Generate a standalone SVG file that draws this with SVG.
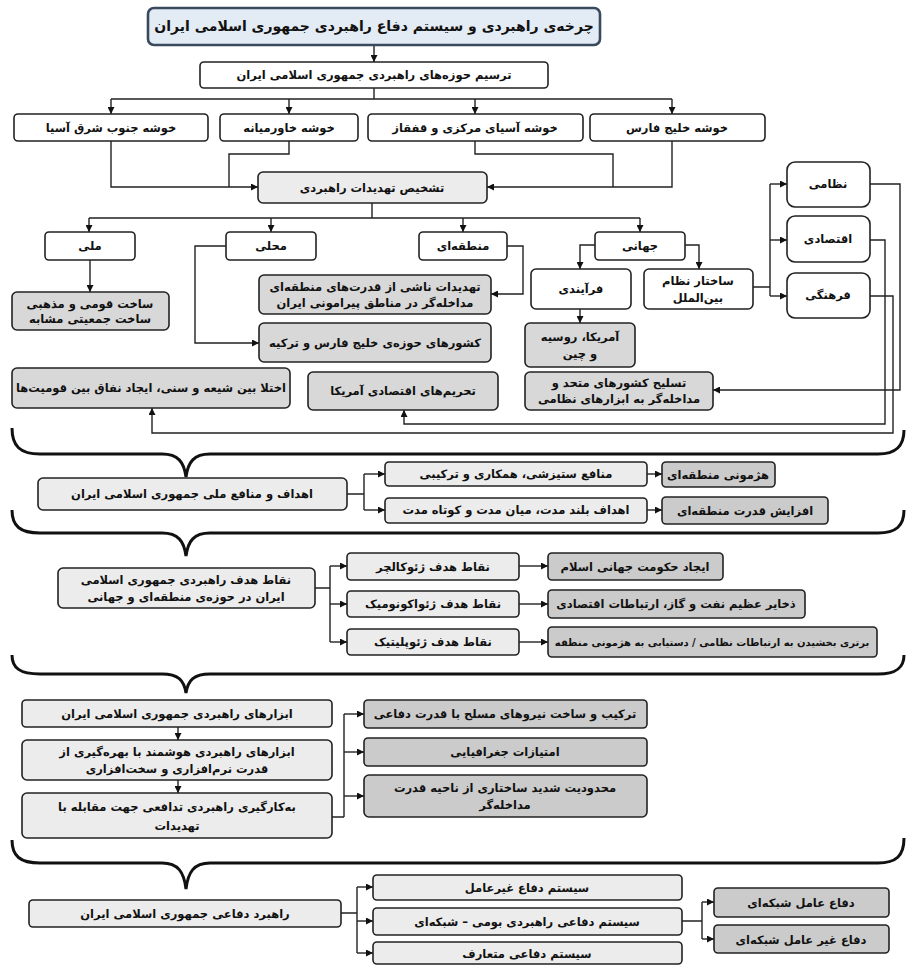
<svg xmlns="http://www.w3.org/2000/svg" width="909" height="966" viewBox="0 0 909 966">
<defs>
<marker id="ah" viewBox="0 0 8 8" refX="8" refY="4" markerWidth="7" markerHeight="7" markerUnits="userSpaceOnUse" orient="auto">
<path d="M0,0 L8,4 L0,8 z" fill="#111"/>
</marker>
<style>
.w{fill:#ffffff;stroke:#222;stroke-width:1.6}
.l{fill:#ececec;stroke:#222;stroke-width:1.6}
.g{fill:#d8d8d8;stroke:#222;stroke-width:1.6}
.d{fill:#cbcbcb;stroke:#222;stroke-width:1.6}
.tt{fill:#e3ebf4;stroke:#3a4a5e;stroke-width:2.6}
text{font-family:"DejaVu Sans",sans-serif;font-weight:bold;font-size:11.5px;fill:#111;text-anchor:middle;direction:rtl}
.big{font-size:14px}
.sm{font-size:10px}
.c{fill:none;stroke:#222;stroke-width:1.4}
.a{fill:none;stroke:#222;stroke-width:1.4;marker-end:url(#ah)}
.b{fill:none;stroke:#111;stroke-width:3}
</style>
</defs>
<rect width="909" height="966" fill="#fff"/>

<g id="connectors">
<path class="a" d="M374,45 V62"/>
<path class="c" d="M374,88 V99 M111,99 H672"/>
<path class="a" d="M111,99 V114"/>
<path class="a" d="M289,99 V114"/>
<path class="a" d="M475,99 V114"/>
<path class="a" d="M672,99 V114"/>
<path class="a" d="M111,141 V187 H258"/>
<path class="c" d="M289,141 V154 H229 V187"/>
<path class="c" d="M475,141 V154 H613 V187"/>
<path class="a" d="M672,141 V187 H487"/>
<path class="c" d="M372,203 V218 M89,218 H640"/>
<path class="a" d="M89,218 V232"/>
<path class="a" d="M271,218 V232"/>
<path class="a" d="M463,218 V232"/>
<path class="a" d="M640,218 V232"/>
<path class="a" d="M90,260 V292"/>
<path class="a" d="M226,246 H195 V343 H259"/>
<path class="a" d="M507,246 H523 V294 H491"/>
<path class="a" d="M595,245 H580 V269"/>
<path class="a" d="M685,245 H699 V269"/>
<path class="a" d="M580,309 V323"/>
<path class="c" d="M753,287 H770 M770,184 V296"/>
<path class="a" d="M770,184 H787"/>
<path class="a" d="M770,240 H787"/>
<path class="a" d="M770,296 H787"/>
<path class="a" d="M870,184 H900 V390 H713"/>
<path class="a" d="M870,240 H885 V424 H404 V410"/>
<path class="a" d="M870,296 H893 V433 H152 V408"/>

<path class="c" d="M347,494 H364 M364,474 V510"/>
<path class="a" d="M364,474 H385"/>
<path class="a" d="M364,510 H385"/>
<path class="a" d="M647,474 H662"/>
<path class="a" d="M647,510 H662"/>

<path class="c" d="M315,588 H330 M330,566 V642"/>
<path class="a" d="M330,566 H347"/>
<path class="a" d="M330,604 H347"/>
<path class="a" d="M330,642 H347"/>
<path class="a" d="M519,566 H548"/>
<path class="a" d="M519,604 H548"/>
<path class="a" d="M519,642 H548"/>

<path class="a" d="M178,727 V740"/>
<path class="a" d="M178,780 V793"/>
<path class="c" d="M332,817 H344 M344,714 V817"/>
<path class="a" d="M344,714 H364"/>
<path class="a" d="M344,752 H364"/>
<path class="a" d="M344,796 H364"/>

<path class="c" d="M341,913 H357 M357,887 V953"/>
<path class="a" d="M357,887 H373"/>
<path class="a" d="M357,921 H373"/>
<path class="a" d="M357,953 H373"/>
<path class="c" d="M682,921 H702 M702,902 V939"/>
<path class="a" d="M702,902 H714"/>
<path class="a" d="M702,939 H714"/>

<path class="b" d="M12,428 C12,446 20,454 40,454 L162,454 C178,454 184,462 186,477 C188,462 194,454 210,454 L878,454 C896,454 904,446 904,430"/>
<path class="b" d="M12,510 C12,526 20,533 40,533 L162,533 C178,533 184,541 186,556 C188,541 194,533 210,533 L878,533 C896,533 904,526 904,510"/>
<path class="b" d="M12,655 C12,668 20,674 40,674 L162,674 C178,674 184,680 186,693 C188,680 194,674 210,674 L878,674 C896,674 904,668 904,655"/>
<path class="b" d="M12,840 C12,856 20,863 40,863 L162,863 C178,863 184,872 186,889 C188,872 194,863 210,863 L878,863 C896,863 904,856 904,838"/>
</g>

<g id="n-title"><rect class="tt" x="148" y="8" width="452" height="37" rx="6"/><text class="big" x="374" y="31">چرخه‌ی راهبردی و سیستم دفاع راهبردی جمهوری اسلامی ایران</text></g>
<g id="n-tarsim"><rect class="w" x="200" y="62" width="348" height="26" rx="4"/><text x="374" y="79">ترسیم حوزه‌های راهبردی جمهوری اسلامی ایران</text></g>
<g id="n-seasia"><rect class="w" x="14" y="114" width="194" height="27" rx="4"/><text x="111" y="132">خوشه جنوب شرق آسیا</text></g>
<g id="n-mideast"><rect class="w" x="220" y="114" width="138" height="27" rx="4"/><text x="289" y="132">خوشه خاورمیانه</text></g>
<g id="n-central"><rect class="w" x="368" y="114" width="215" height="27" rx="4"/><text x="475" y="132">خوشه آسیای مرکزی و قفقاز</text></g>
<g id="n-gulf"><rect class="w" x="590" y="114" width="175" height="27" rx="4"/><text x="677" y="132">خوشه خلیج فارس</text></g>
<g id="n-tashkhis"><rect class="l" x="258" y="172" width="229" height="31" rx="5"/><text x="372" y="192">تشخیص تهدیدات راهبردی</text></g>
<g id="n-melli"><rect class="w" x="45" y="232" width="90" height="28" rx="4"/><text x="90" y="250">ملی</text></g>
<g id="n-mahalli"><rect class="w" x="226" y="232" width="90" height="28" rx="4"/><text x="271" y="250">محلی</text></g>
<g id="n-mantaghei"><rect class="w" x="419" y="232" width="88" height="28" rx="4"/><text x="463" y="250">منطقه‌ای</text></g>
<g id="n-jahani"><rect class="w" x="595" y="232" width="90" height="28" rx="4"/><text x="640" y="250">جهانی</text></g>
<g id="n-sakht"><rect class="g" x="12" y="292" width="157" height="38" rx="5"/><text x="90" y="308">ساخت قومی و مذهبی</text><text x="90" y="323">ساخت جمعیتی مشابه</text></g>
<g id="n-tahdidat"><rect class="g" x="259" y="275" width="232" height="39" rx="5"/><text x="375" y="291">تهدیدات ناشی از قدرت‌های منطقه‌ای</text><text x="375" y="307">مداخله‌گر در مناطق پیرامونی ایران</text></g>
<g id="n-keshvarha"><rect class="g" x="259" y="323" width="232" height="39" rx="5"/><text x="375" y="347">کشورهای حوزه‌ی خلیج فارس و ترکیه</text></g>
<g id="n-farayandi"><rect class="w" x="531" y="269" width="100" height="40" rx="5"/><text x="581" y="293">فرآیندی</text></g>
<g id="n-sakhtar"><rect class="w" x="644" y="269" width="109" height="40" rx="5"/><text x="698" y="285">ساختار نظام</text><text x="698" y="302">بین‌الملل</text></g>
<g id="n-amrika"><rect class="g" x="525" y="323" width="110" height="44" rx="5"/><text x="580" y="341">آمریکا، روسیه</text><text x="580" y="358">و چین</text></g>
<g id="n-taslih"><rect class="g" x="525" y="372" width="188" height="38" rx="5"/><text x="619" y="387">تسلیح کشورهای متحد و</text><text x="619" y="403">مداخله‌گر به ابزارهای نظامی</text></g>
<g id="n-nezami"><rect class="w" x="787" y="162" width="83" height="45" rx="8"/><text x="828" y="188">نظامی</text></g>
<g id="n-eghtesadi"><rect class="w" x="787" y="216" width="83" height="46" rx="8"/><text x="828" y="243">اقتصادی</text></g>
<g id="n-farhangi"><rect class="w" x="787" y="273" width="83" height="45" rx="8"/><text x="828" y="299">فرهنگی</text></g>
<g id="n-tahrim"><rect class="g" x="308" y="372" width="190" height="38" rx="5"/><text x="403" y="395">تحریم‌های اقتصادی آمریکا</text></g>
<g id="n-ekhtela"><rect class="g" x="12" y="368" width="278" height="40" rx="5"/><text x="151" y="392">اختلا بین شیعه و سنی، ایجاد نفاق بین قومیت‌ها</text></g>

<g id="n-ahdaf"><rect class="l" x="38" y="478" width="309" height="32" rx="5"/><text x="192" y="498">اهداف و منافع ملی جمهوری اسلامی ایران</text></g>
<g id="n-manafe"><rect class="l" x="385" y="462" width="262" height="24" rx="4"/><text x="516" y="478">منافع ستیزشی، همکاری و ترکیبی</text></g>
<g id="n-boland"><rect class="l" x="385" y="498" width="262" height="25" rx="4"/><text x="516" y="514">اهداف بلند مدت، میان مدت و کوتاه مدت</text></g>
<g id="n-hegemony"><rect class="d" x="662" y="462" width="113" height="25" rx="4"/><text x="718" y="479">هژمونی منطقه‌ای</text></g>
<g id="n-afzayesh"><rect class="d" x="662" y="497" width="166" height="27" rx="4"/><text x="745" y="515">افزایش قدرت منطقه‌ای</text></g>

<g id="n-noghat"><rect class="l" x="58" y="568" width="257" height="40" rx="5"/><text x="186" y="584">نقاط هدف راهبردی جمهوری اسلامی</text><text x="186" y="601">ایران در حوزه‌ی منطقه‌ای و جهانی</text></g>
<g id="n-geoculture"><rect class="l" x="347" y="553" width="172" height="27" rx="4"/><text x="433" y="571">نقاط هدف ژئوکالچر</text></g>
<g id="n-geoeconomic"><rect class="l" x="347" y="591" width="172" height="26" rx="4"/><text x="433" y="608">نقاط هدف ژئواکونومیک</text></g>
<g id="n-geopolitic"><rect class="l" x="347" y="629" width="172" height="26" rx="4"/><text x="433" y="646">نقاط هدف ژئوپلیتیک</text></g>
<g id="n-hokumat"><rect class="d" x="548" y="553" width="175" height="27" rx="4"/><text x="635" y="571">ایجاد حکومت جهانی اسلام</text></g>
<g id="n-zakhayer"><rect class="d" x="548" y="590" width="257" height="28" rx="4"/><text x="676" y="608">ذخایر عظیم نفت و گاز، ارتباطات اقتصادی</text></g>
<g id="n-bartari"><rect class="d" x="548" y="627" width="329" height="30" rx="4"/><text class="sm" x="712" y="646">برتری بخشیدن به ارتباطات نظامی / دستیابی به هژمونی منطقه</text></g>

<g id="n-abzar"><rect class="l" x="22" y="700" width="310" height="27" rx="4"/><text x="177" y="718">ابزارهای راهبردی جمهوری اسلامی ایران</text></g>
<g id="n-hooshmand"><rect class="l" x="22" y="740" width="310" height="40" rx="5"/><text x="177" y="756">ابزارهای راهبردی هوشمند با بهره‌گیری از</text><text x="177" y="773">قدرت نرم‌افزاری و سخت‌افزاری</text></g>
<g id="n-bekargiri"><rect class="l" x="22" y="793" width="310" height="45" rx="5"/><text x="177" y="811">به‌کارگیری راهبردی تدافعی جهت مقابله با</text><text x="177" y="830">تهدیدات</text></g>
<g id="n-tarkib"><rect class="d" x="364" y="700" width="283" height="28" rx="4"/><text x="505" y="718">ترکیب و ساخت نیروهای مسلح با قدرت دفاعی</text></g>
<g id="n-emtiyazat"><rect class="d" x="364" y="738" width="283" height="28" rx="4"/><text x="505" y="756">امتیازات جغرافیایی</text></g>
<g id="n-mahdudiyat"><rect class="d" x="364" y="775" width="283" height="42" rx="5"/><text x="505" y="792">محدودیت شدید ساختاری از ناحیه قدرت</text><text x="505" y="809">مداخله‌گر</text></g>

<g id="n-rahbord"><rect class="l" x="29" y="900" width="312" height="27" rx="4"/><text x="185" y="918">راهبرد دفاعی جمهوری اسلامی ایران</text></g>
<g id="n-gheyramel"><rect class="l" x="373" y="875" width="309" height="25" rx="4"/><text x="527" y="892">سیستم دفاع غیرعامل</text></g>
<g id="n-boomi"><rect class="l" x="373" y="908" width="309" height="27" rx="4"/><text x="527" y="926">سیستم دفاعی راهبردی بومی – شبکه‌ای</text></g>
<g id="n-motearef"><rect class="l" x="373" y="942" width="309" height="22" rx="4"/><text x="527" y="958">سیستم دفاعی متعارف</text></g>
<g id="n-amel"><rect class="d" x="714" y="888" width="175" height="29" rx="4"/><text x="801" y="907">دفاع عامل شبکه‌ای</text></g>
<g id="n-gheyramel2"><rect class="d" x="714" y="925" width="175" height="28" rx="4"/><text x="801" y="944">دفاع غیر عامل شبکه‌ای</text></g>
</svg>
